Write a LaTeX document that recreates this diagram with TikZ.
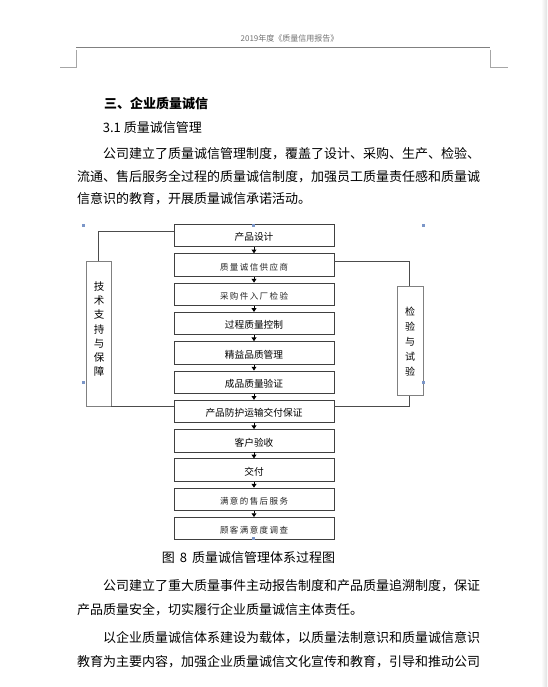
\documentclass[tikz,border=0pt]{standalone}
\usepackage{fontspec}
\setmainfont{Noto Sans CJK SC}
\usetikzlibrary{arrows.meta}
\makeatletter
\def\jsp@end{}
\def\jspread#1{\jsp@i#1\jsp@end}
\def\jsp@i#1{\ifx#1\jsp@end\unskip\else#1\hskip0pt plus 1fil\relax\expandafter\jsp@i\fi}
\makeatother
\newcommand\smallspread[1]{{\fontsize{8.5pt}{9pt}\selectfont\color{black!85}\makebox[68pt][s]{\jspread{#1}}}}
\definecolor{handleblue}{HTML}{7B96C8}
\tikzset{
  body/.style={font=\fontsize{13pt}{13pt}\selectfont, anchor=base west, inner sep=0pt},
  stepbox/.style={draw=black!75, line width=0.9pt, minimum width=160pt, minimum height=22.4pt, inner sep=0pt, text height=10.4pt, text depth=0pt, font=\fontsize{9.7pt}{10pt}\selectfont},
  sidebox/.style={draw=black!50, line width=0.9pt, inner sep=0pt},
  conn/.style={draw=black!70, line width=0.8pt},
  arr/.style={-{Triangle[length=3.8pt,width=4.8pt]}, line width=0.9pt, black},
  handle/.style={fill=handleblue, minimum size=3pt, inner sep=0pt, rectangle}
}
\begin{document}
\begin{tikzpicture}[x=1pt, y=-1pt]
\useasboundingbox (0,0) rectangle (547,687);
\fill[white] (0,0) rectangle (547,687);
\shade[left color=white, right color=black!12] (541,0) rectangle (547,687);

% header
\node[font=\fontsize{8pt}{8pt}\selectfont, text=black!55, inner sep=0pt] (hdr) at (289.5,38.4) {2019年度《质量信用报告》};
\draw[black!50, line width=0.8pt] (76,47) -- (490,47);
\draw[black!35, line width=0.6pt] (76,50) -- (76,67) -- (60,67);
\draw[black!35, line width=0.6pt] (490,50) -- (490,67) -- (508,67);

% heading and text
\node[body, font=\fontsize{13pt}{13pt}\selectfont\bfseries] (h3) at (104,109) {三、企业质量诚信};
\node[body] (s31) at (102.7,132.4) {3.1 质量诚信管理};
\node[body] (p1) at (103,158.7) {\makebox[377pt][s]{\jspread{公司建立了质量诚信管理制度，覆盖了设计、采购、生产、检验、}}};
\node[body] (p2) at (77,181.6) {\makebox[403pt][s]{\jspread{流通、售后服务全过程的质量诚信制度，加强员工质量责任感和质量诚}}};
\node[body] (p3) at (77,203.3) {信意识的教育，开展质量诚信承诺活动。};

% flow boxes
\node[stepbox] (b1)  at (254,235.7) {产品设计};
\node[stepbox] (b2)  at (254,265.0) {\smallspread{质量诚信供应商}};
\node[stepbox] (b3)  at (254,294.3) {\smallspread{采购件入厂检验}};
\node[stepbox] (b4)  at (254,323.6) {过程质量控制};
\node[stepbox] (b5)  at (254,352.9) {精益品质管理};
\node[stepbox] (b6)  at (254,382.2) {成品质量验证};
\node[stepbox] (b7)  at (254,411.5) {产品防护运输交付保证};
\node[stepbox] (b8)  at (254,440.8) {客户验收};
\node[stepbox] (b9)  at (254,470.1) {交付};
\node[stepbox] (b10) at (254,499.4) {\smallspread{满意的售后服务}};
\node[stepbox] (b11) at (254,528.7) {\smallspread{顾客满意度调查}};

\foreach \a/\b in {b1/b2,b2/b3,b3/b4,b4/b5,b5/b6,b6/b7,b7/b8,b8/b9,b9/b10,b10/b11}
  \draw[arr] (\a.south) -- (\b.north);

% side boxes
\node[sidebox, minimum width=25pt, minimum height=144.3pt] (LB) at (98.5,333.85) {};
\node[font=\fontsize{10.5pt}{14.2pt}\selectfont, align=center, inner sep=0pt] (LBt) at (99,329.2) {技\\术\\支\\持\\与\\保\\障};
\node[sidebox, minimum width=25.6pt, minimum height=109.3pt] (RB) at (410.5,340.65) {};
\node[font=\fontsize{10pt}{15pt}\selectfont, align=center, inner sep=0pt] (RBt) at (410,341.7) {检\\验\\与\\试\\验};

% connectors
\coordinate (lt) at (98.5,231.7);
\draw[conn] (LB.north) -- (lt) -- (lt -| b1.west);
\draw[conn] (LB.south east) -- (LB.south east -| b7.west);
\coordinate (rt) at (409.3,261.7);
\coordinate (rb) at (409.3,406.7);
\draw[conn] (rt -| b2.east) -- (rt) -- (rt |- RB.north);
\draw[conn] (rt |- RB.south) -- (rb) -- (rb -| b7.east);

% selection handles
\node[handle] (h1) at (83,225) {};
\node[handle] (h2) at (253,225) {};
\node[handle] (h3h) at (423,225) {};
\node[handle] (h4) at (83,382) {};
\node[handle] (h5) at (423,382) {};
\node[handle] (h6) at (253,538) {};

% caption
\node[body] (cap) at (161.7,562.6) {图\hspace{5pt}8\hspace{5pt}质量诚信管理体系过程图};

% following text
\node[body] (q1) at (103,590.2) {\makebox[377pt][s]{\jspread{公司建立了重大质量事件主动报告制度和产品质量追溯制度，保证}}};
\node[body] (q2) at (77,614.9) {产品质量安全，切实履行企业质量诚信主体责任。};
\node[body] (q3) at (103,642.2) {\makebox[377pt][s]{\jspread{以企业质量诚信体系建设为载体，以质量法制意识和质量诚信意识}}};
\node[body] (q4) at (77,666.9) {\makebox[403pt][s]{\jspread{教育为主要内容，加强企业质量诚信文化宣传和教育，引导和推动公司}}};
\end{tikzpicture}
\end{document}
